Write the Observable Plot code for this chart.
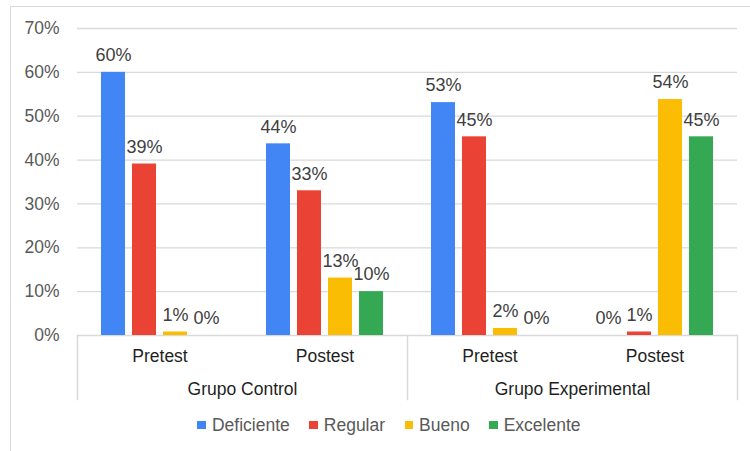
<!DOCTYPE html>
<html>
<head>
<meta charset="utf-8">
<script src="https://cdn.jsdelivr.net/npm/d3@7"></script>
<script src="https://cdn.jsdelivr.net/npm/@observablehq/plot@0.6"></script>
<style>
html, body { margin: 0; padding: 0; background: #fff; }
#wrap { position: relative; width: 750px; height: 451px; overflow: hidden; font-family: "Liberation Sans", Arial, sans-serif; }
#border { position: absolute; left: 10px; top: 6px; width: 800px; height: 500px; border-left: 1.5px solid #d9d9d9; border-top: 1.5px solid #d9d9d9; box-sizing: border-box; }
#chart { position: absolute; left: 0; top: 0; }
#legend { position: absolute; left: 14px; top: 414px; width: 750px; display: flex; justify-content: center; gap: 19.5px; font-size: 17.5px; color: #595959; line-height: 22px; }
#legend .item { display: flex; align-items: center; }
#legend .sw { width: 8.5px; height: 8.5px; margin-right: 6px; }
</style>
</head>
<body>
<div id="wrap">
  <div id="border"></div>
  <div id="chart"></div>
  <div id="legend"></div>
</div>
<script>
// ---- data ----
const groups = ["Grupo Control", "Grupo Control", "Grupo Experimental", "Grupo Experimental"];
const phases = ["Pretest", "Postest", "Pretest", "Postest"];
const series = ["Deficiente", "Regular", "Bueno", "Excelente"];
const deficiente = [0.600, 0.437, 0.531, 0.000];
const regular    = [0.391, 0.330, 0.453, 0.008];
const bueno      = [0.008, 0.131, 0.016, 0.538];
const excelente  = [0.000, 0.100, 0.000, 0.453];
const colors = ["#4285F4", "#EA4335", "#FBBC04", "#34A853"];
const yTicks = [0, 0.1, 0.2, 0.3, 0.4, 0.5, 0.6, 0.7];

// ---- tables ----
const keys = phases.map((p, i) => groups[i] + "|" + p);
const valuesBySeries = [deficiente, regular, bueno, excelente];
const rows = [];
keys.forEach((k, i) => {
  series.forEach((s, j) => {
    rows.push({key: k, series: s, value: valuesBySeries[j][i]});
  });
});
const phaseRows = keys.map((k, i) => ({key: k, phase: phases[i]}));
const groupRows = keys
  .map((k, i) => ({key: k, group: groups[i], first: i === 0 || groups[i - 1] !== groups[i]}))
  .filter(d => d.first);
const pct = d => Math.round(d * 100) + "%";
const font = "'Liberation Sans', Arial, sans-serif";

const plot = Plot.plot({
  width: 750,
  height: 410,
  marginLeft: 76,
  marginRight: 12,
  marginTop: 28,
  marginBottom: 75,
  style: {fontFamily: font, fontSize: "17px", background: "transparent", overflow: "visible"},
  fx: {domain: keys, padding: 0, axis: null},
  x: {domain: series, paddingInner: 0.23, paddingOuter: 0.77, axis: null},
  y: {domain: [0, 0.7]},
  color: {domain: series, range: colors},
  marks: [
    Plot.gridY(yTicks, {stroke: "#d9d9d9", strokeOpacity: 1, strokeWidth: 1.3}),
    Plot.axisY(yTicks, {tickSize: 0, tickPadding: 18, tickFormat: pct, color: "#595959", fontSize: 17.5, label: null}),
    Plot.barY(rows, {fx: "key", x: "series", y: "value", fill: "series"}),
    Plot.text(rows, {fx: "key", x: "series", y: "value", text: d => pct(d.value), dy: -17, lineAnchor: "middle", fill: "#404040", fontSize: 18}),
    Plot.text(phaseRows, {fx: "key", text: "phase", frameAnchor: "bottom", dy: 21, lineAnchor: "middle", fill: "#1f1f1f", fontSize: 17.5}),
    Plot.text(groupRows, {fx: "key", text: "group", frameAnchor: "bottom-right", dy: 53.5, textAnchor: "middle", lineAnchor: "middle", fill: "#1f1f1f", fontSize: 17.5}),
    Plot.frame({fx: keys[0], anchor: "left", stroke: "#d9d9d9", strokeWidth: 1.5, insetTop: 307, insetBottom: -64}),
    Plot.frame({fx: keys[2], anchor: "left", stroke: "#d9d9d9", strokeWidth: 1.5, insetTop: 307, insetBottom: -64}),
    Plot.frame({fx: keys[3], anchor: "right", stroke: "#d9d9d9", strokeWidth: 1.5, insetTop: 307, insetBottom: -64})
  ]
});
document.getElementById("chart").appendChild(plot);

// ---- legend ----
const legend = document.getElementById("legend");
series.forEach((s, j) => {
  const item = document.createElement("div");
  item.className = "item";
  const sw = document.createElement("span");
  sw.className = "sw";
  sw.style.background = plot.scale("color").apply(s);
  item.appendChild(sw);
  item.appendChild(document.createTextNode(s));
  legend.appendChild(item);
});
</script>
</body>
</html>
